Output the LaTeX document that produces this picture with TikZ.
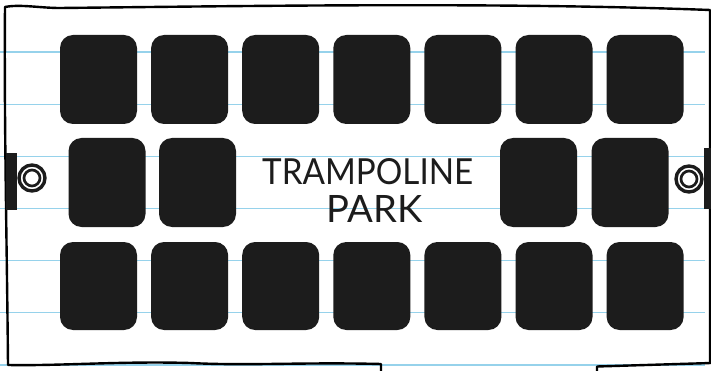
\documentclass[tikz,border=0pt]{standalone}
\usepackage{fontspec}
\setsansfont{Lato}
\usepackage{graphicx}
\definecolor{boxblack}{RGB}{28,28,28}
\definecolor{ruleblue}{RGB}{150,210,235}
\begin{document}
\begin{tikzpicture}[x=1pt,y=-1pt,
  paper/.style={line width=1.3pt, draw=ruleblue},
  seat/.style={fill=boxblack, rounded corners=13pt, inner sep=0pt, minimum width=77pt},
  outline/.style={line width=2.4pt, line join=round, line cap=round, draw=black},
  clip/.style={fill=boxblack, draw=none},
  label/.style={anchor=north west, inner sep=0pt, text=boxblack}]
\useasboundingbox (0,0) rectangle (711,371);
\fill[white] (0,0) rectangle (711,371);
% ruled paper lines
\foreach \y in {52,104.2,156.3,208.4,260.6,312.8,365} \draw[paper] (0,\y) -- (705,\y);
% outline of the park
\draw[outline] (381,371) -- (381,364)
  .. controls (300,362) and (250,366) .. (190,363)
  .. controls (120,361) and (60,366) .. (8,365)
  .. controls (7,250) and (4,120) .. (5,7)
  .. controls (20,4) and (40,8) .. (60,8)
  .. controls (250,6) and (500,2) .. (710,10)
  -- (710,362);
\draw[outline] (597,371) -- (597,366.5) -- (711,363);
% top row
\foreach \i in {0,...,6}
  \node[seat, minimum height=89pt] (t\i) at ({98.5+91.1*\i},79.5) {};
% middle row
\node[seat, minimum height=89pt] (m1) at (107,182.5) {};
\node[seat, minimum height=89pt] (m2) at (197.5,182.5) {};
\node[seat, minimum height=89pt] (m3) at (538.5,182.5) {};
\node[seat, minimum height=89pt] (m4) at (630,182.5) {};
% bottom row
\foreach \i in {0,...,6}
  \node[seat, minimum height=88pt] (b\i) at ({98.5+91.1*\i},286) {};
% clips and rings
\fill[clip] (6,153) rectangle (17,210);
\fill[clip] (704,148) rectangle (711,209);
\coordinate (lring) at (32,178);
\coordinate (rring) at (689,179);
\foreach \c in {lring,rring}{
  \fill[white] (\c) circle (14.5);
  \draw[line width=3.4pt, boxblack] (\c) circle (13);
  \draw[line width=2.7pt, boxblack] (\c) circle (8);
}
% title
\node[label] (title) at (262,158) {\resizebox{211pt}{26pt}{\sffamily TRAMPOLINE}};
\node[label] (park) at (326,195) {\resizebox{96pt}{27pt}{\sffamily PARK}};
\end{tikzpicture}
\end{document}
